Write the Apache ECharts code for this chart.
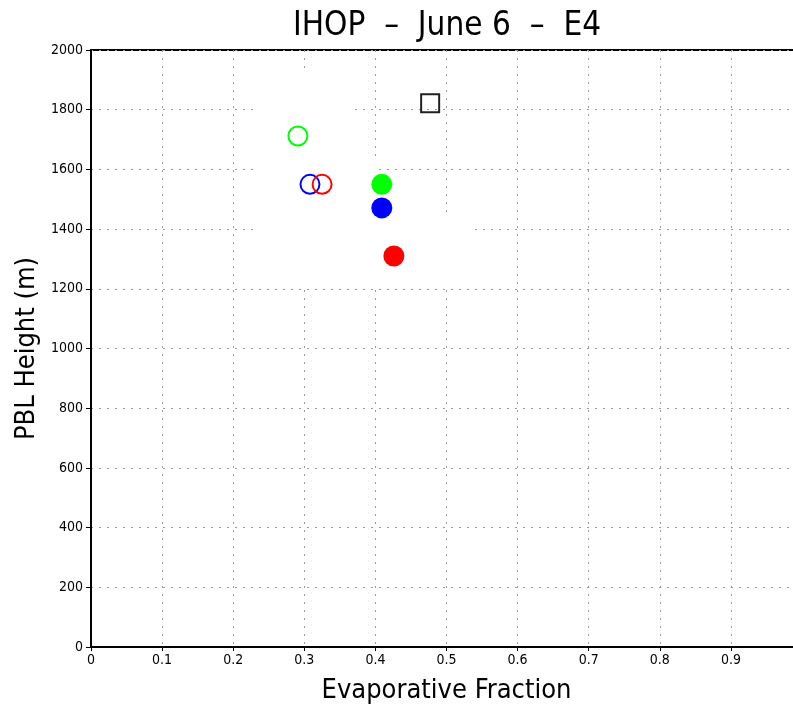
<!DOCTYPE html>
<html>
<head>
<meta charset="utf-8">
<script src="https://cdn.jsdelivr.net/npm/echarts@6/dist/echarts.min.js"></script>
<style>
  html, body { margin: 0; padding: 0; background: #fff; }
  #chart { width: 793px; height: 707px; }
</style>
</head>
<body>
<div id="chart"></div>
<script>
// Evaporative fraction (x) and PBL height in metres (y) for each run
const obsSquare   = [[0.477, 1822]];
const greenOpen   = [[0.291, 1712]];
const blueOpen    = [[0.308, 1550]];
const redOpen     = [[0.325, 1550]];
const greenFilled = [[0.409, 1550]];
const blueFilled  = [[0.409, 1471]];
const redFilled   = [[0.426, 1310]];

const xTicks = [0, 0.1, 0.2, 0.3, 0.4, 0.5, 0.6, 0.7, 0.8, 0.9, 1];
const yTicks = [0, 200, 400, 600, 800, 1000, 1200, 1400, 1600, 1800, 2000];

const FONT = '"Liberation Sans Narrow", "DejaVu Sans Condensed", sans-serif';

const chart = echarts.init(document.getElementById('chart'), null, { renderer: 'canvas' });

function openCircle(name, data, color) {
  return {
    name, type: 'scatter', data, symbol: 'circle', symbolSize: 19,
    itemStyle: { color: 'rgba(0,0,0,0)', borderColor: color, borderWidth: 2, opacity: 1 },
    z: 5
  };
}
function filledCircle(name, data, color) {
  return {
    name, type: 'scatter', data, symbol: 'circle', symbolSize: 21,
    itemStyle: { color: color, borderWidth: 0, opacity: 1 },
    z: 5
  };
}

chart.setOption({
  animation: false,
  backgroundColor: '#fff',
  title: {
    text: 'IHOP  –  June 6  –  E4',
    left: 442, top: 5, textAlign: 'center',
    textStyle: { fontFamily: FONT, fontSize: 33, fontWeight: 'normal', color: '#000' }
  },
  // the frame runs past the right edge of the page
  grid: {
    left: 91, width: 711, top: 50, height: 597,
    outerBoundsMode: 'none',
    show: true, borderColor: '#000', borderWidth: 2, backgroundColor: '#fff'
  },
  xAxis: {
    type: 'value', min: xTicks[0], max: xTicks[xTicks.length - 1], interval: 0.1,
    name: 'Evaporative Fraction', nameLocation: 'middle', nameGap: 30,
    nameTextStyle: { fontFamily: FONT, fontSize: 27, color: '#000' },
    axisLine: { show: true, onZero: false, lineStyle: { color: '#000', width: 2 } },
    axisTick: { show: true, length: 4, lineStyle: { color: '#000' } },
    axisLabel: {
      fontFamily: FONT, fontSize: 14, color: '#000', margin: 6,
      formatter: v => (Math.abs(v - 1) < 1e-9 ? '1' : String(+v.toFixed(1)))
    },
    splitLine: { show: true, lineStyle: { color: '#999', width: 1, type: [2, 6] } }
  },
  yAxis: {
    type: 'value', min: yTicks[0], max: yTicks[yTicks.length - 1], interval: 200,
    name: 'PBL Height (m)', nameLocation: 'middle', nameGap: 47,
    nameTextStyle: { fontFamily: FONT, fontSize: 27, color: '#000' },
    axisLine: { show: true, onZero: false, lineStyle: { color: '#000', width: 2 } },
    axisTick: { show: true, length: 5, lineStyle: { color: '#000' } },
    axisLabel: { fontFamily: FONT, fontSize: 14, color: '#000', margin: 8, formatter: v => String(v) },
    splitLine: { show: true, lineStyle: { color: '#999', width: 1, type: [2, 6] } }
  },
  // blank patches over the grid lines around the cluster of runs
  graphic: [
    { type: 'rect', z: 1, silent: true, shape: { x: 255, y: 72, width: 96, height: 213 }, style: { fill: '#fff' } },
    { type: 'rect', z: 1, silent: true, shape: { x: 350, y: 115, width: 23, height: 170 }, style: { fill: '#fff' } },
    { type: 'rect', z: 1, silent: true, shape: { x: 372, y: 175, width: 70, height: 110 }, style: { fill: '#fff' } },
    { type: 'rect', z: 1, silent: true, shape: { x: 441, y: 216, width: 30, height: 69 }, style: { fill: '#fff' } },
    { type: 'rect', z: 1, silent: true, shape: { x: 373, y: 160, width: 4, height: 16 }, style: { fill: '#fff' } }
  ],
  series: [
    {
      name: 'Observed', type: 'scatter', data: obsSquare, symbol: 'rect', symbolSize: 18,
      itemStyle: { color: 'rgba(0,0,0,0)', borderColor: '#222', borderWidth: 2, opacity: 1 }, z: 5
    },
    openCircle('Green open', greenOpen, '#00ff00'),
    openCircle('Blue open', blueOpen, '#0000ff'),
    openCircle('Red open', redOpen, '#ff0000'),
    filledCircle('Green filled', greenFilled, '#00ff00'),
    filledCircle('Blue filled', blueFilled, '#0000ff'),
    filledCircle('Red filled', redFilled, '#ff0000')
  ]
});
</script>
</body>
</html>
